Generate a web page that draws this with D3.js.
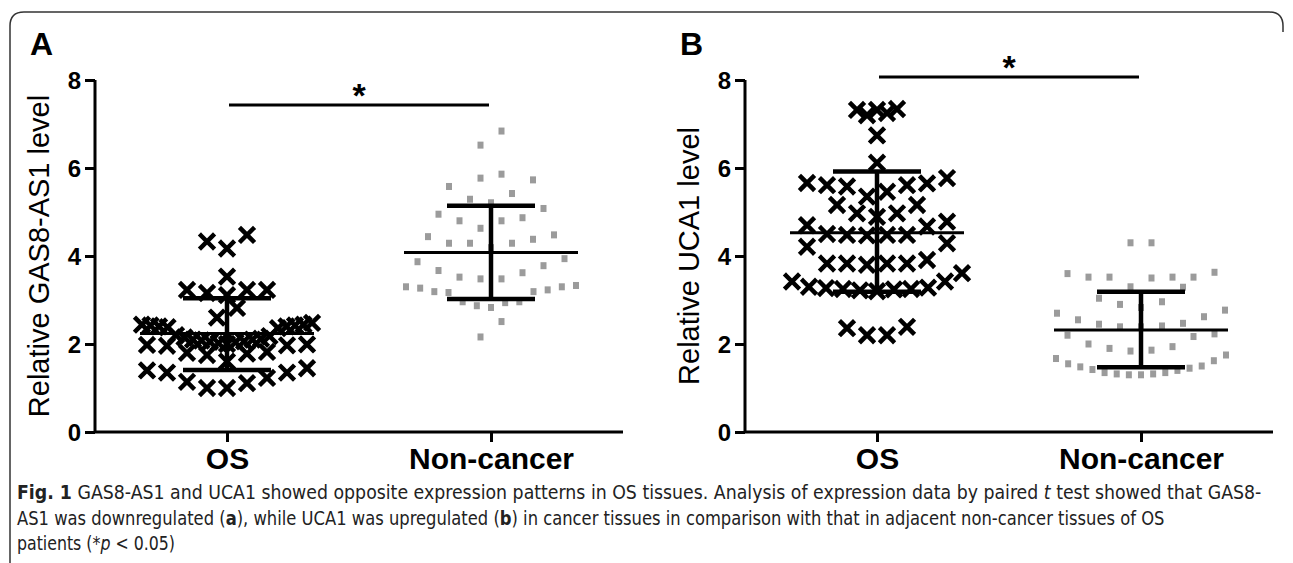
<!DOCTYPE html>
<html>
<head>
<meta charset="utf-8">
<style>
    body { margin: 0; background: #fff; }
    text { font-family: "Liberation Sans", Arial, sans-serif; }
    .cap { font-family: "DejaVu Sans", sans-serif; font-stretch: condensed; fill: #222; }
</style>
</head>
<body>
<svg id="chart" width="1293" height="563"></svg>
<script src="https://cdn.jsdelivr.net/npm/d3@7"></script>
<script>
    // categories and ticks
    const groups = ["OS", "Non-cancer"]
    const yTicks = [0, 2, 4, 6, 8]

    // panel A: GAS8-AS1
    const gasOS = [1.00, 1.00, 1.11, 1.14, 1.23, 1.35, 1.35, 1.40, 1.45,
        1.60, 1.75, 1.78, 1.80, 1.82, 1.96, 1.97, 1.98, 1.99,
        2.00, 2.02, 2.04, 2.05, 2.06, 2.08, 2.10, 2.10, 2.12, 2.15, 2.18, 2.20,
        2.36, 2.38, 2.40, 2.40, 2.42, 2.42, 2.44, 2.44, 2.48,
        2.60, 2.82, 3.11, 3.16, 3.23, 3.23, 3.23, 3.53, 4.17, 4.33, 4.48]
    const gasNC = [2.16, 2.51, 2.83, 2.87, 2.94, 2.96, 2.96, 3.17, 3.19, 3.19, 3.23, 3.27,
        3.30, 3.30, 3.33, 3.48, 3.48, 3.52, 3.62, 3.67, 3.78, 3.87, 3.94,
        4.19, 4.29, 4.29, 4.29, 4.38, 4.44, 4.48, 4.63, 4.80, 4.80, 4.87, 4.95, 5.08,
        5.21, 5.29, 5.42, 5.58, 5.73, 5.77, 5.86, 6.52, 6.84]
    const gasMean = [2.24, 4.08]
    const gasSdLow = [1.41, 3.02]
    const gasSdHigh = [3.04, 5.14]

    // panel B: UCA1
    const ucaOS = [2.20, 2.20, 2.36, 2.39, 3.20, 3.22, 3.24, 3.25, 3.25, 3.27, 3.28, 3.30,
        3.42, 3.42, 3.61, 3.80, 3.83, 3.83, 3.83, 3.83, 3.91, 4.21, 4.29,
        4.47, 4.48, 4.48, 4.48, 4.50, 4.67, 4.70, 4.78, 4.89, 4.97, 4.97, 5.16, 5.16,
        5.35, 5.46, 5.58, 5.61, 5.61, 5.65, 5.66, 5.77, 6.12, 6.74,
        7.20, 7.25, 7.32, 7.32, 7.34]
    const ucaNC = [1.30, 1.30, 1.32, 1.32, 1.35, 1.35, 1.40, 1.42, 1.45, 1.48, 1.50, 1.55,
        1.62, 1.67, 1.75, 1.84, 1.86, 1.90, 1.94, 2.00, 2.17, 2.20, 2.23,
        2.39, 2.39, 2.41, 2.45, 2.47, 2.55, 2.62, 2.70, 2.77, 2.83, 2.90, 2.96, 3.04, 3.29,
        3.30, 3.50, 3.52, 3.52, 3.52, 3.52, 3.60, 3.63, 4.30, 4.30]
    const ucaMean = [4.53, 2.32]
    const ucaSdLow = [3.19, 1.47]
    const ucaSdHigh = [5.92, 3.19]

    const caption = [
        [["Fig. 1", "b"], [" GAS8-AS1 and UCA1 showed opposite expression patterns in OS tissues. Analysis of expression data by paired ", ""], ["t", "i"], [" test showed that GAS8-", ""]],
        [["AS1 was downregulated (", ""], ["a", "b"], ["), while UCA1 was upregulated (", ""], ["b", "b"], [") in cancer tissues in comparison with that in adjacent non-cancer tissues of OS", ""]],
        [["patients (*", ""], ["p", "i"], [" < 0.05)", ""]]
    ]
    const captionWidths = [1245, 1148, 158]

    let svg = d3.select("#chart")

    // frame
    svg.append("path")
        .attr("d", "M10,563 V26 Q10,12 24,12 H1269 Q1283,12 1283,26 V32")
        .attr("fill", "none")
        .attr("stroke", "#333")
        .attr("stroke-width", 1.5)

    // Prism style column scatter: values binned by thresholds, each bin spread in a row,
    // smallest values in the middle, larger ones outward
    function columnScatter(values, y, thresholds, step, maxHalf) {
        let bins = d3.groups(values, v => d3.bisectRight(thresholds, v))
        let out = []
        bins.forEach(([k, vals]) => {
            vals = vals.slice().sort((a, b) => a - b)
            let n = vals.length
            let s = n > 1 ? Math.min(step, 2 * maxHalf / (n - 1)) : 0
            let slots = d3.range(n).map(i => i - (n - 1) / 2)
                .sort((a, b) => Math.abs(a) - Math.abs(b) || a - b)
            vals.forEach((v, i) => out.push({ v: v, y: y(v), dx: slots[i] * s }))
        })
        return out
    }

    function panel(opt) {
        let g = svg.append("g")
        let x = d3.scalePoint().domain(groups).range([opt.left, opt.left + 528]).padding(0.5)
        let y = d3.scaleLinear().domain([0, 8]).range([432, 80])

        // y axis
        let ya = g.append("g").attr("transform", `translate(${opt.left},0)`)
            .call(d3.axisLeft(y).tickValues(yTicks).tickSize(10).tickPadding(4))
        ya.select(".domain").attr("stroke-width", 3).attr("d", `M0,${y(8)}V${y(0)}`)
        ya.selectAll(".tick line").attr("stroke-width", 3)
        ya.selectAll(".tick text").attr("font-size", 24).attr("font-weight", "bold")
            .attr("dy", "0.36em")

        // x axis
        let xa = g.append("g").attr("transform", "translate(0,432)")
            .call(d3.axisBottom(x).tickSize(10).tickPadding(6))
        xa.select(".domain").attr("stroke-width", 3).attr("d", `M${opt.left},0H${opt.left + 528}`)
        xa.selectAll(".tick line").attr("stroke-width", 3)
        xa.selectAll(".tick text").attr("font-size", 30).attr("font-weight", "bold")

        // y title
        g.append("text")
            .attr("transform", `translate(${opt.left - 46},${y(4)}) rotate(-90)`)
            .attr("text-anchor", "middle")
            .attr("font-size", 29)
            .text(opt.title)

        // panel letter
        g.append("text")
            .attr("x", opt.left - 65).attr("y", 55)
            .attr("font-size", 32).attr("font-weight", "bold")
            .text(opt.letter)

        // points
        let os = columnScatter(opt.os, y, opt.binOS, 20, 85)
        g.selectAll(".cross").data(os).enter().append("path")
            .attr("class", "cross")
            .attr("transform", d => `translate(${x("OS") + d.dx},${d.y})`)
            .attr("d", "M-6,-6L6,6M-6,6L6,-6")
            .attr("stroke", "#000").attr("stroke-width", 4.5)
            .attr("stroke-linecap", "square")

        let nc = columnScatter(opt.nc, y, opt.binNC, 21, 85)
        g.selectAll(".sq").data(nc).enter().append("rect")
            .attr("class", "sq")
            .attr("x", d => x("Non-cancer") + d.dx - 3)
            .attr("y", d => d.y - 3.5)
            .attr("width", 6).attr("height", 7)
            .attr("fill", "#9b9b9b")

        // mean and SD
        groups.forEach((gr, i) => {
            let cx = x(gr)
            g.append("line").attr("x1", cx - 87).attr("x2", cx + 87)
                .attr("y1", y(opt.mean[i])).attr("y2", y(opt.mean[i]))
                .attr("stroke", "#000").attr("stroke-width", 3)
            g.append("line").attr("x1", cx).attr("x2", cx)
                .attr("y1", y(opt.lo[i])).attr("y2", y(opt.hi[i]))
                .attr("stroke", "#000").attr("stroke-width", 4.5)
            ;[opt.lo[i], opt.hi[i]].forEach(v => {
                g.append("line").attr("x1", cx - 44).attr("x2", cx + 44)
                    .attr("y1", y(v)).attr("y2", y(v))
                    .attr("stroke", "#000").attr("stroke-width", 4.5)
            })
        })

        // significance
        g.append("line").attr("x1", x("OS") + 2).attr("x2", x("Non-cancer") - 2)
            .attr("y1", opt.sigY).attr("y2", opt.sigY)
            .attr("stroke", "#000").attr("stroke-width", 3)
        g.append("text")
            .attr("x", (x("OS") + x("Non-cancer")) / 2).attr("y", opt.sigY + 2)
            .attr("text-anchor", "middle")
            .attr("font-size", 34).attr("font-weight", "bold")
            .text("*")
    }

    panel({ left: 95, letter: "A", title: "Relative GAS8-AS1 level", os: gasOS, nc: gasNC,
        mean: gasMean, lo: gasSdLow, hi: gasSdHigh, sigY: 105,
        binOS: [1.5, 2.0, 2.5, 3.0, 3.5, 4.0],
        binNC: [2.75, 3.35, 3.95, 4.55, 5.15, 5.75, 6.35] })
    panel({ left: 745, letter: "B", title: "Relative UCA1 level", os: ucaOS, nc: ucaNC,
        mean: ucaMean, lo: ucaSdLow, hi: ucaSdHigh, sigY: 77,
        binOS: [2.8, 3.75, 4.3, 4.8, 5.3, 5.8, 6.3, 6.8, 7.3],
        binNC: [1.8, 2.3, 2.8, 3.3, 3.8] })

    // caption: measure each line and squeeze it horizontally to the reference width
    caption.forEach((line, i) => {
        let t = svg.append("text")
            .attr("class", "cap")
            .attr("font-size", 20)
        line.forEach(s => {
            t.append("tspan")
                .attr("font-weight", s[1] == "b" ? "bold" : null)
                .attr("font-style", s[1] == "i" ? "italic" : null)
                .text(s[0])
        })
        let w = t.node().getComputedTextLength()
        t.attr("transform", `translate(17,${499 + i * 25.5}) scale(${captionWidths[i] / w},1)`)
    })
</script>
</body>
</html>
